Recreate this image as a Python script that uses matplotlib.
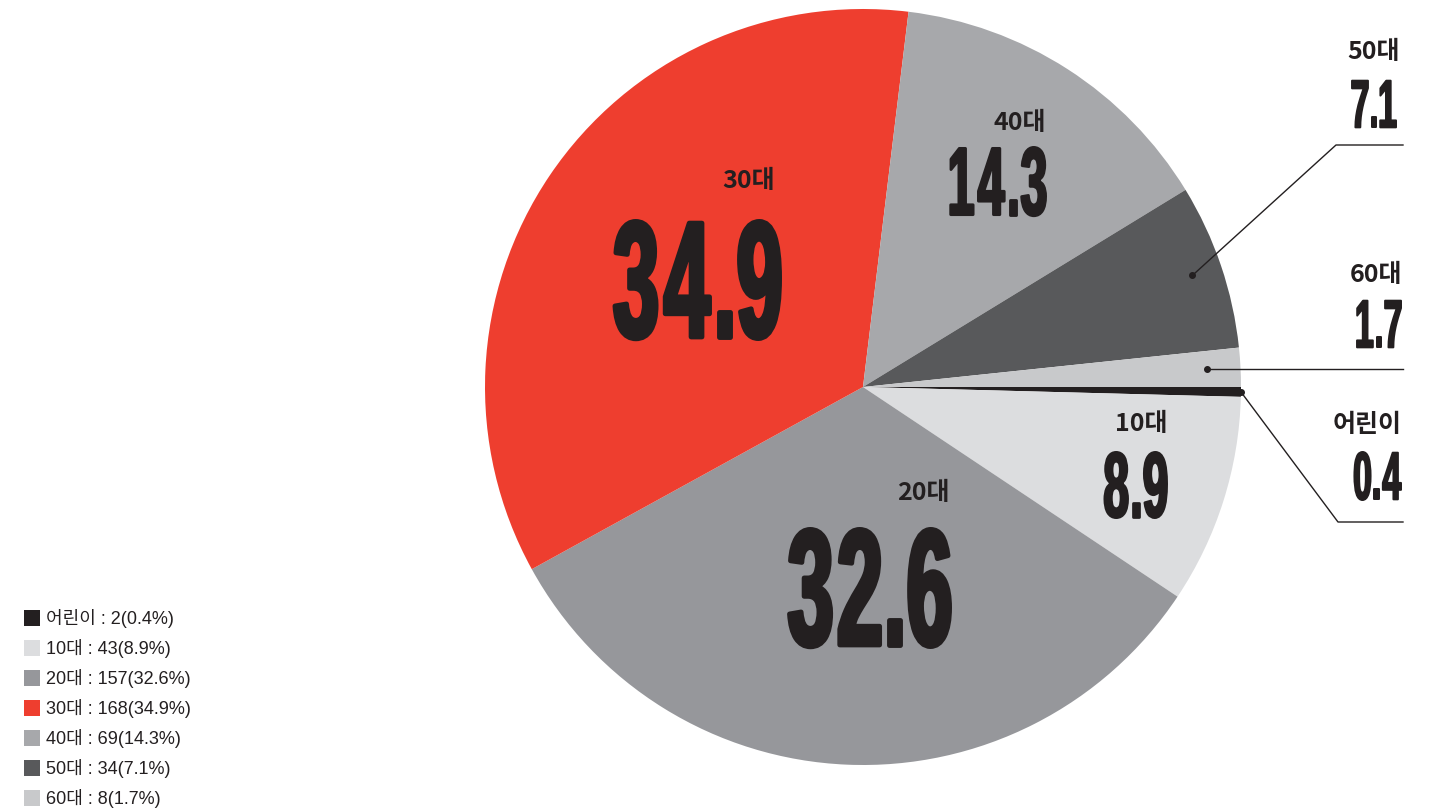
import matplotlib
matplotlib.use("Agg")
import matplotlib.pyplot as plt
import numpy as np
from matplotlib.textpath import TextPath
from matplotlib.patches import PathPatch, Rectangle
from matplotlib.font_manager import FontProperties
from matplotlib.transforms import Affine2D

# data
groups = ['어린이', '10대', '20대', '30대', '40대', '50대', '60대']
counts = [2, 43, 157, 168, 69, 34, 8]
shares = [0.4, 8.9, 32.6, 34.9, 14.3, 7.1, 1.7]
colors = ['#231f20', '#dcdddf', '#96979b', '#ee3e2f', '#a7a8ab', '#58595b', '#c8c9cb']

W, H = 1447, 812
INK = '#231f20'

fig = plt.figure(figsize=(W / 100, H / 100), dpi=100)
ax = fig.add_axes([0, 0, 1, 1])

# pie: centre / radius in pixel units (y measured from bottom)
cx, cy, R = 863, H - 388, 378
wedges, _ = ax.pie(counts, colors=colors, startangle=0, counterclock=False,
                   center=(cx, cy), radius=R, wedgeprops=dict(linewidth=0))
ax.set_xlim(0, W)
ax.set_ylim(0, H)
ax.set_aspect('equal')
ax.axis('off')

num_font = FontProperties(family='Liberation Sans', weight='bold')
tag_font = ['Noto Sans CJK KR', 'DejaVu Sans']
leg_font = ['Liberation Sans', 'Noto Sans CJK KR']


def big_number(text, right, bottom, height, squeeze=0.5):
    # heavy condensed numerals: each glyph squeezed, thickened and set tight
    lw = 0.04 * height
    gap = 0.035 * height
    ref = TextPath((0, 0), '0', size=100, prop=num_font).get_extents()
    s = (height - lw) / ref.height
    pieces, x = [], 0.0
    for ch in text:
        p = TextPath((0, 0), ch, size=100, prop=num_font)
        e = p.get_extents()
        tr = Affine2D().translate(-e.x0, -ref.y0).scale(s * squeeze, s).translate(x, 0)
        pieces.append(tr.transform_path(p))
        x += e.width * s * squeeze + lw + gap
    total = x - gap - lw
    for p in pieces:
        tr = Affine2D().translate(right - lw / 2 - total, H - bottom + lw / 2)
        ax.add_patch(PathPatch(tr.transform_path(p), fc=INK, ec=INK,
                               lw=lw * 0.72, joinstyle='round'))


# label layout (top-based pixels): number right, number bottom, number height, tag right, tag y
layout = {
    '어린이': (1402, 502, 50, 1402, 425),
    '10대': (1168, 520, 68, 1168, 424),
    '20대': (952, 650, 122, 950, 493),
    '30대': (782, 342, 122, 775, 181),
    '40대': (1047, 218, 71, 1046, 123),
    '50대': (1397, 130, 50, 1400, 52),
    '60대': (1402, 350, 50, 1402, 275),
}

for g, v in zip(groups, shares):
    nr, nb, nh, tr_, ty = layout[g]
    big_number(f'{v:.1f}', nr, nb, nh)
    ax.text(tr_, H - ty, g, ha='right', va='center', fontsize=18,
            fontweight='bold', family=tag_font, color=INK)

# leader lines for the small slices
def mid_point(w, r):
    a = np.deg2rad((w.theta1 + w.theta2) / 2)
    return cx + R * r * np.cos(a), cy + R * r * np.sin(a)

x0, y0 = mid_point(wedges[5], 0.92)
ax.plot([x0, 1336, 1403], [y0, H - 146, H - 146], color=INK, lw=1)
ax.plot(x0, y0, 'o', color=INK, ms=4)

x0, y0 = mid_point(wedges[6], 0.91)
ax.plot([x0, 1403], [y0, y0], color=INK, lw=1)
ax.plot(x0, y0, 'o', color=INK, ms=4)

x0, y0 = mid_point(wedges[0], 1.0)
ax.plot([x0, 1338, 1403], [y0, H - 523, H - 523], color=INK, lw=1)
ax.plot(x0, y0, 'o', color=INK, ms=4)

# legend
for i, (g, n, v, c) in enumerate(zip(groups, counts, shares, colors)):
    yy = H - (619 + 30 * i)
    ax.add_patch(Rectangle((24, yy - 8), 16, 16, fc=c, lw=0))
    ax.text(46, yy - 5, f'{g} : {n}({v}%)', ha='left', va='baseline', fontsize=13,
            family=leg_font, color=INK)

fig.savefig('out.png', dpi=100)
